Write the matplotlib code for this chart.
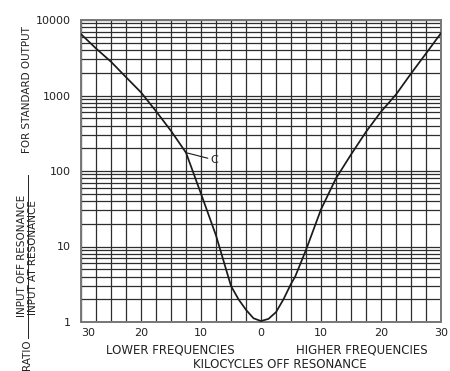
import matplotlib
matplotlib.use("Agg")
import matplotlib.pyplot as plt
import numpy as np
from matplotlib.ticker import MultipleLocator, FixedLocator, NullFormatter
from matplotlib.lines import Line2D

# kilocycles off resonance (negative = lower frequencies)
kc_off = [-30, -27.5, -25, -22.5, -20, -17.5, -15, -12.5, -10, -7.5, -5, -3.75,
          -2.5, -1.25, 0, 1.25, 2.5, 3.75, 5, 5.7, 7.5, 10, 12.5, 15, 17.5,
          20, 22.5, 25, 27.5, 30]
# ratio input off resonance / input at resonance
ratio = [6500, 4200, 2800, 1750, 1100, 620, 340, 175, 50, 14, 3.0, 2.0,
         1.45, 1.12, 1.03, 1.1, 1.35, 2.0, 3.2, 4.0, 9, 31, 80, 165, 330,
         610, 1030, 1950, 3600, 6700]

xtick_pos = [-30, -20, -10, 0, 10, 20, 30]
xtick_txt = ['30', '20', '10', '0', '10', '20', '30']
ytick_pos = [1, 10, 100, 1000, 10000]
ytick_txt = ['1', '10', '100', '1000', '10000']

ink = '#222222'
W, H = 450, 371

fig = plt.figure(figsize=(4.5, 3.71), dpi=100)
ax = fig.add_axes([81/W, 1 - 322/H, 360/W, 302/H])

ax.plot(kc_off, ratio, color='#1a1a1a', lw=1.25, zorder=3)

ax.set_xlim(-30, 30)
ax.set_yscale('log')
ax.set_ylim(1, 10000)

ax.set_xticks(xtick_pos)
ax.set_xticklabels(xtick_txt)
ax.xaxis.set_minor_locator(MultipleLocator(2.5))
ax.set_yticks(ytick_pos)
ax.set_yticklabels(ytick_txt)
minor_y = [m * d for d in [1, 10, 100, 1000] for m in range(2, 10)]
ax.yaxis.set_minor_locator(FixedLocator(minor_y))
ax.yaxis.set_minor_formatter(NullFormatter())

ax.tick_params(which='both', length=0, colors=ink, labelsize=8)
ax.tick_params(axis='y', pad=7)
ax.tick_params(axis='x', pad=4)
labs = ax.get_xticklabels()
labs[0].set_horizontalalignment('left')

ax.grid(which='both', color='#2e2e2e', lw=0.9)
ax.set_axisbelow(True)
for s in ax.spines.values():
    s.set_color('#777777')
    s.set_linewidth(1.4)

ax.annotate('C', xy=(kc_off[7], ratio[7]), xytext=(-8.4, 140),
            fontsize=8, color=ink, ha='left', va='center',
            arrowprops=dict(arrowstyle='-', lw=0.8, color='#1a1a1a',
                            shrinkA=0, shrinkB=0))

# x axis captions
fig.text(170/W, 1 - 350/H, 'LOWER FREQUENCIES', ha='center', va='center',
         fontsize=8.5, color=ink)
fig.text(362/W, 1 - 350/H, 'HIGHER FREQUENCIES', ha='center', va='center',
         fontsize=8.5, color=ink)
fig.text(280/W, 1 - 364/H, 'KILOCYCLES OFF RESONANCE', ha='center', va='center',
         fontsize=8.5, color=ink)

# y axis caption, written as a fraction
fig.text(27/W, 1 - 355/H, 'RATIO', rotation=90, ha='center', va='center',
         fontsize=7.5, color=ink)
fig.text(22.5/W, 1 - 256/H, 'INPUT OFF RESONANCE', rotation=90, ha='center',
         va='center', fontsize=7.5, color=ink)
fig.text(33/W, 1 - 258/H, 'INPUT AT RESONANCE', rotation=90, ha='center',
         va='center', fontsize=7.5, color=ink)
fig.add_artist(Line2D([28/W, 28/W], [1 - 175/H, 1 - 338/H],
                      transform=fig.transFigure, color=ink, lw=0.7))
fig.text(27/W, 1 - 90/H, 'FOR STANDARD OUTPUT', rotation=90, ha='center',
         va='center', fontsize=7.5, color=ink)

fig.savefig('out.png', dpi=100)
